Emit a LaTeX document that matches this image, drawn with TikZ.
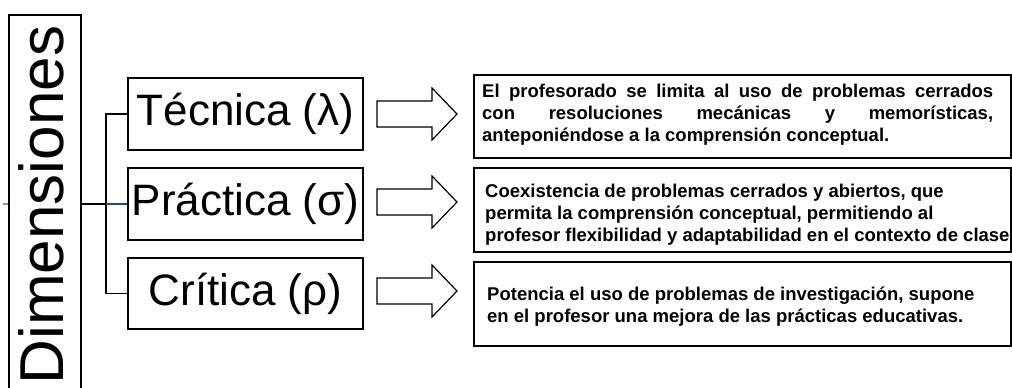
\documentclass[tikz,border=0pt]{standalone}
\usepackage{fontspec}
\setmainfont{Liberation Sans}
\definecolor{navyline}{RGB}{40,70,110}
\definecolor{ticklight}{RGB}{90,170,205}
\newcommand\blockarr[1]{\draw[blk] (377,#1-13) -- (432,#1-13) -- (432,#1-26) -- (457,#1) -- (432,#1+26) -- (432,#1+13) -- (377,#1+13) -- cycle;}
\begin{document}
\begin{tikzpicture}[x=1pt,y=-1pt,
  box/.style={draw=black, line width=1.5pt, inner sep=0pt},
  lab/.style={font=\fontsize{44}{50}\selectfont},
  desc/.style={font=\fontsize{18.5}{22}\selectfont\bfseries, inner sep=0pt, anchor=north west, align=left},
  blk/.style={draw=black, line width=1.2pt, fill=white, line join=miter},
  link/.style={draw=black, line width=1.3pt}]
\useasboundingbox (0,0) rectangle (1012,388);
\clip (0,0) rectangle (1012,388);
\fill[white] (0,0) rectangle (1012,388);

% Dimensiones
\node[box, minimum width=72pt, minimum height=380pt] (dim) at (45,205) {};
\node[rotate=90, font=\fontsize{62}{70}\selectfont, inner sep=0pt] (dimtext) at (41,205) {Dimensiones};
\coordinate (tick) at (3,204);
\draw[ticklight, line width=1.5pt] (tick) -- ++(5,0);

% left boxes
\node[box, lab, minimum width=235pt, minimum height=72pt] (tec) at (245.5,114) {Técnica (λ)};
\node[box, lab, minimum width=235pt, minimum height=72pt] (pra) at (245.5,204) {Práctica (σ)};
\node[box, lab, minimum width=235pt, minimum height=71pt] (cri) at (245.5,293.5) {Crítica (ρ)};

% connectors
\coordinate (j) at (106,204);
\draw[link] (dim.east |- j) -- (j);
\draw[link] (tec.west) -| (j) |- (cri.west);
\draw[link, draw=navyline] (j) -- (pra.west);

% block arrows
\blockarr{114}
\blockarr{202}
\blockarr{291}

% right boxes
\node[box, anchor=north west, minimum width=537pt, minimum height=83pt] (d1) at (473,74) {};
\node[box, anchor=north west, minimum width=537pt, minimum height=84pt] (d2) at (473,167) {};
\node[box, anchor=north west, minimum width=537pt, minimum height=84pt] (d3) at (473,261) {};

\node[desc] (t1) at (482,84) {\makebox[511pt][s]{El profesorado se limita al uso de problemas cerrados}\\
\makebox[511pt][s]{con resoluciones mecánicas y memorísticas,}\\
anteponiéndose a la comprensión conceptual.};
\node[desc] (t2) at (485,184) {Coexistencia de problemas cerrados y abiertos, que\\
permita la comprensión conceptual, permitiendo al\\
profesor flexibilidad y adaptabilidad en el contexto de clase};
\node[desc] (t3) at (487,287) {Potencia el uso de problemas de investigación, supone\\
en el profesor una mejora de las prácticas educativas.};
\end{tikzpicture}
\end{document}
